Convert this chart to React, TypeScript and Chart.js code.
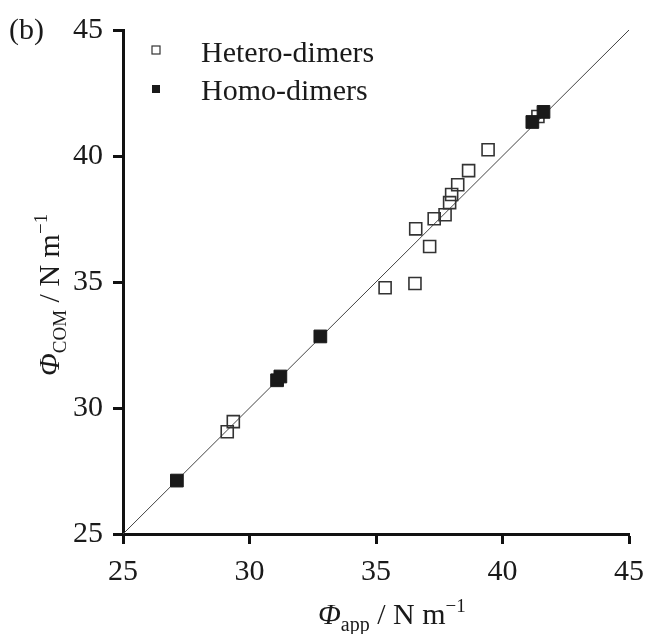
import React, { useEffect, useRef } from "react";
import { Chart, registerables } from "chart.js";

Chart.register(...registerables);

// ---- data ----
const heteroX = [29.12, 29.36, 35.36, 36.54, 36.57, 37.12, 37.3, 37.73, 37.91, 37.99, 38.23, 38.66, 39.43, 41.4];
const heteroY = [29.06, 29.46, 34.77, 34.94, 37.11, 36.41, 37.51, 37.67, 38.15, 38.47, 38.86, 39.42, 40.25, 41.57];
const homoX = [27.13, 31.09, 31.22, 32.8, 41.18, 41.62];
const homoY = [27.12, 31.1, 31.25, 32.84, 41.35, 41.75];
const diagonalX = [25, 45];
const diagonalY = [25, 45];
const axisMin = 25;
const axisMax = 45;
const axisStep = 5;
const seriesNames = ["Hetero-dimers", "Homo-dimers"];
const panelLabel = "(b)";

const SERIF = '"Liberation Serif"';

type Seg = { t: string; size: number; italic?: boolean; dy?: number };

function drawRich(ctx: CanvasRenderingContext2D, segs: Seg[], x: number, y: number, rotate: boolean) {
  ctx.save();
  ctx.translate(x, y);
  if (rotate) ctx.rotate(-Math.PI / 2);
  ctx.fillStyle = "#1a1a1a";
  ctx.textBaseline = "alphabetic";
  ctx.textAlign = "left";
  let cx = 0;
  for (const s of segs) {
    ctx.font = `${s.italic ? "italic " : ""}${s.size}px ${SERIF}`;
    ctx.fillText(s.t, cx, s.dy || 0);
    cx += ctx.measureText(s.t).width;
  }
  ctx.restore();
}

const textPlugin = {
  id: "textPlugin",
  afterDraw(chart: any) {
    const ctx: CanvasRenderingContext2D = chart.ctx;
    ctx.save();
    ctx.fillStyle = "#1a1a1a";
    ctx.font = `30px ${SERIF}`;
    ctx.textBaseline = "alphabetic";
    ctx.textAlign = "left";
    ctx.fillText(panelLabel, 9, 39);
    const lx = 156;
    const rows = [50, 89];
    const ms = 8;
    ctx.lineWidth = 1.2;
    ctx.strokeStyle = "#333";
    ctx.strokeRect(lx - ms / 2, rows[0] - ms / 2, ms, ms);
    ctx.fillStyle = "#1a1a1a";
    ctx.fillRect(lx - ms / 2, rows[1] - ms / 2, ms, ms);
    ctx.font = `30px ${SERIF}`;
    ctx.fillText(seriesNames[0], 201, 62);
    ctx.fillText(seriesNames[1], 201, 100);
    ctx.restore();
    drawRich(
      ctx,
      [
        { t: "Φ", size: 30, italic: true },
        { t: "app", size: 20, dy: 7 },
        { t: " / N m", size: 30 },
        { t: "−1", size: 19, dy: -12 },
      ],
      318,
      624,
      false
    );
    drawRich(
      ctx,
      [
        { t: "Φ", size: 30, italic: true },
        { t: "COM", size: 19, dy: 7 },
        { t: " / N m", size: 30 },
        { t: "−1", size: 19, dy: -12 },
      ],
      59,
      376,
      true
    );
  },
};

export default function App() {
  const ref = useRef<HTMLCanvasElement | null>(null);
  useEffect(() => {
    let chart: Chart | null = null;
    let cancelled = false;
    const build = () => {
      if (cancelled || !ref.current) return;
      const axisCommon = {
        type: "linear" as const,
        min: axisMin,
        max: axisMax,
        border: { display: true, width: 3, color: "#111" },
        grid: {
          display: true,
          drawOnChartArea: false,
          drawTicks: true,
          tickLength: 10,
          tickWidth: 3,
          tickColor: "#111",
        },
        ticks: {
          stepSize: axisStep,
          color: "#1a1a1a",
          padding: 10,
          font: { family: SERIF, size: 30 },
        },
      };
      chart = new Chart(ref.current, {
        type: "scatter",
        data: {
          datasets: [
            {
              label: seriesNames[1],
              data: homoX.map((x, i) => ({ x, y: homoY[i] })),
              pointStyle: "rect",
              pointRadius: 9,
              backgroundColor: "#1a1a1a",
              borderColor: "#1a1a1a",
              borderWidth: 1,
            },
            {
              label: seriesNames[0],
              data: heteroX.map((x, i) => ({ x, y: heteroY[i] })),
              pointStyle: "rect",
              pointRadius: 8.5,
              backgroundColor: "rgba(0,0,0,0)",
              borderColor: "#333",
              borderWidth: 1.6,
            },
            {
              type: "line" as any,
              label: "y = x",
              data: diagonalX.map((x, i) => ({ x, y: diagonalY[i] })),
              borderColor: "#444",
              borderWidth: 1,
              pointRadius: 0,
              showLine: true,
              fill: false,
            } as any,
          ],
        },
        options: {
          responsive: false,
          animation: false,
          devicePixelRatio: 1,
          layout: { padding: { left: 0, top: 30, right: 17, bottom: 0 } },
          plugins: { legend: { display: false }, tooltip: { enabled: false }, title: { display: false } },
          scales: {
            x: {
              ...axisCommon,
              position: "bottom",
              afterFit: (s: any) => {
                s.height = 100;
                s.paddingLeft = 0;
                s.paddingRight = 0;
              },
            },
            y: {
              ...axisCommon,
              position: "left",
              afterFit: (s: any) => {
                s.width = 123;
                s.paddingTop = 0;
                s.paddingBottom = 0;
              },
            },
          },
        } as any,
        plugins: [textPlugin],
      });
    };
    const fonts: any = (document as any).fonts;
    if (fonts && fonts.load) {
      Promise.all([
        fonts.load('30px "Liberation Serif"'),
        fonts.load('italic 30px "Liberation Serif"'),
      ])
        .catch(() => null)
        .then(build);
    } else {
      build();
    }
    return () => {
      cancelled = true;
      if (chart) chart.destroy();
    };
  }, []);
  return (
    <div style={{ position: "absolute", left: 0, top: 0, width: 646, height: 634, background: "#fff" }}>
      <canvas ref={ref} width={646} height={634} style={{ width: 646, height: 634, display: "block" }} />
    </div>
  );
}
